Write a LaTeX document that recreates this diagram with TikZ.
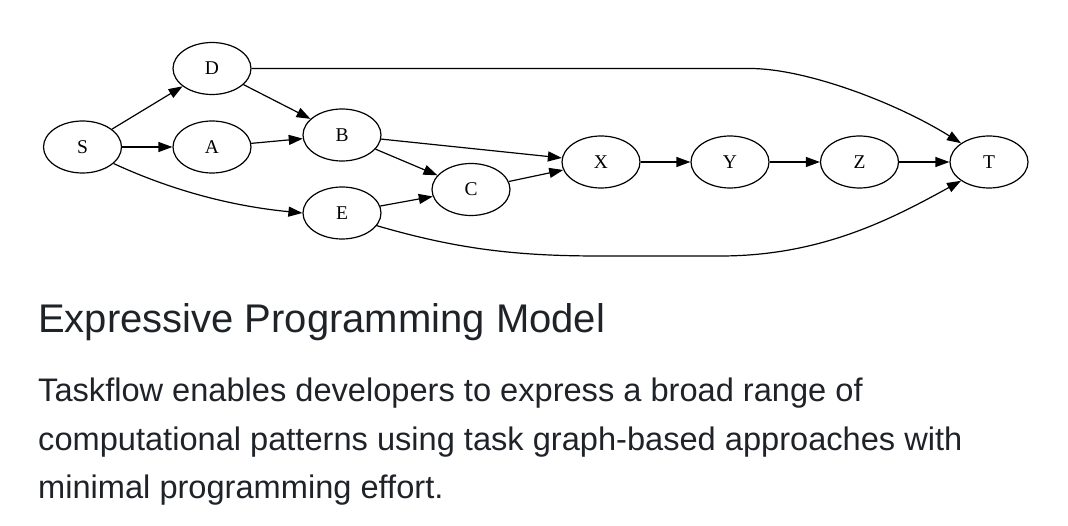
\documentclass[tikz,border=0pt]{standalone}
\usepackage{fontspec}
\setmainfont{Liberation Serif}
\newfontfamily\uifont{Liberation Sans}
\usetikzlibrary{shapes.geometric,arrows.meta}
\definecolor{txt}{HTML}{1F2328}
\begin{document}
\begin{tikzpicture}[x=1pt,y=-1pt,
  task/.style={ellipse,draw,line width=1.2pt,minimum width=78pt,minimum height=52pt,inner sep=0pt,font=\fontsize{19.5}{19.5}\selectfont},
  edge/.style={line width=1.2pt,-{Triangle[length=14pt,width=10pt]}},
  title/.style={anchor=base west,inner sep=0pt,text=txt,font=\uifont\fontsize{40}{48}\selectfont},
  body/.style={anchor=base west,inner sep=0pt,text=txt,font=\uifont\fontsize{32.6}{48}\selectfont}]
\useasboundingbox (0,0) rectangle (1068,526);
\node[task] (S) at (82.5,147) {S};
\node[task] (D) at (212,68.5) {D};
\node[task] (A) at (212,147) {A};
\node[task] (B) at (342,135) {B};
\node[task] (E) at (342,213) {E};
\node[task] (C) at (471,189.5) {C};
\node[task] (X) at (601,162) {X};
\node[task] (Y) at (730,162) {Y};
\node[task] (Z) at (859.5,162) {Z};
\node[task] (T) at (989,162) {T};
\coordinate (dt) at (750,68.5);
\draw[edge] (S) -- (D);
\draw[edge] (S) -- (A);
\draw[edge] (S.-28) .. controls (160,185) and (220,205) .. (E.west);
\draw[edge] (D) -- (B);
\draw[edge] (A) -- (B);
\draw[edge] (B) -- (X);
\draw[edge] (B) -- (C);
\draw[edge] (E) -- (C);
\draw[edge] (C) -- (X);
\draw[edge] (X) -- (Y);
\draw[edge] (Y) -- (Z);
\draw[edge] (Z) -- (T);
\draw[edge] (D.east) -- (dt) .. controls (805,68.5) and (895,102) .. (T.north west);
\draw[edge] (E.-20) .. controls (460,250) and (520,256) .. (600,256) -- (720,256) .. controls (820,256) and (890,220) .. (T.south west);
\node[title] (h) at (38,333) {Expressive Programming Model};
\node[body] (l1) at (38,402) {Taskflow enables developers to express a broad range of};
\node[body] (l2) at (38,450) {computational patterns using task graph-based approaches with};
\node[body] (l3) at (38,498) {minimal programming effort.};
\end{tikzpicture}
\end{document}
